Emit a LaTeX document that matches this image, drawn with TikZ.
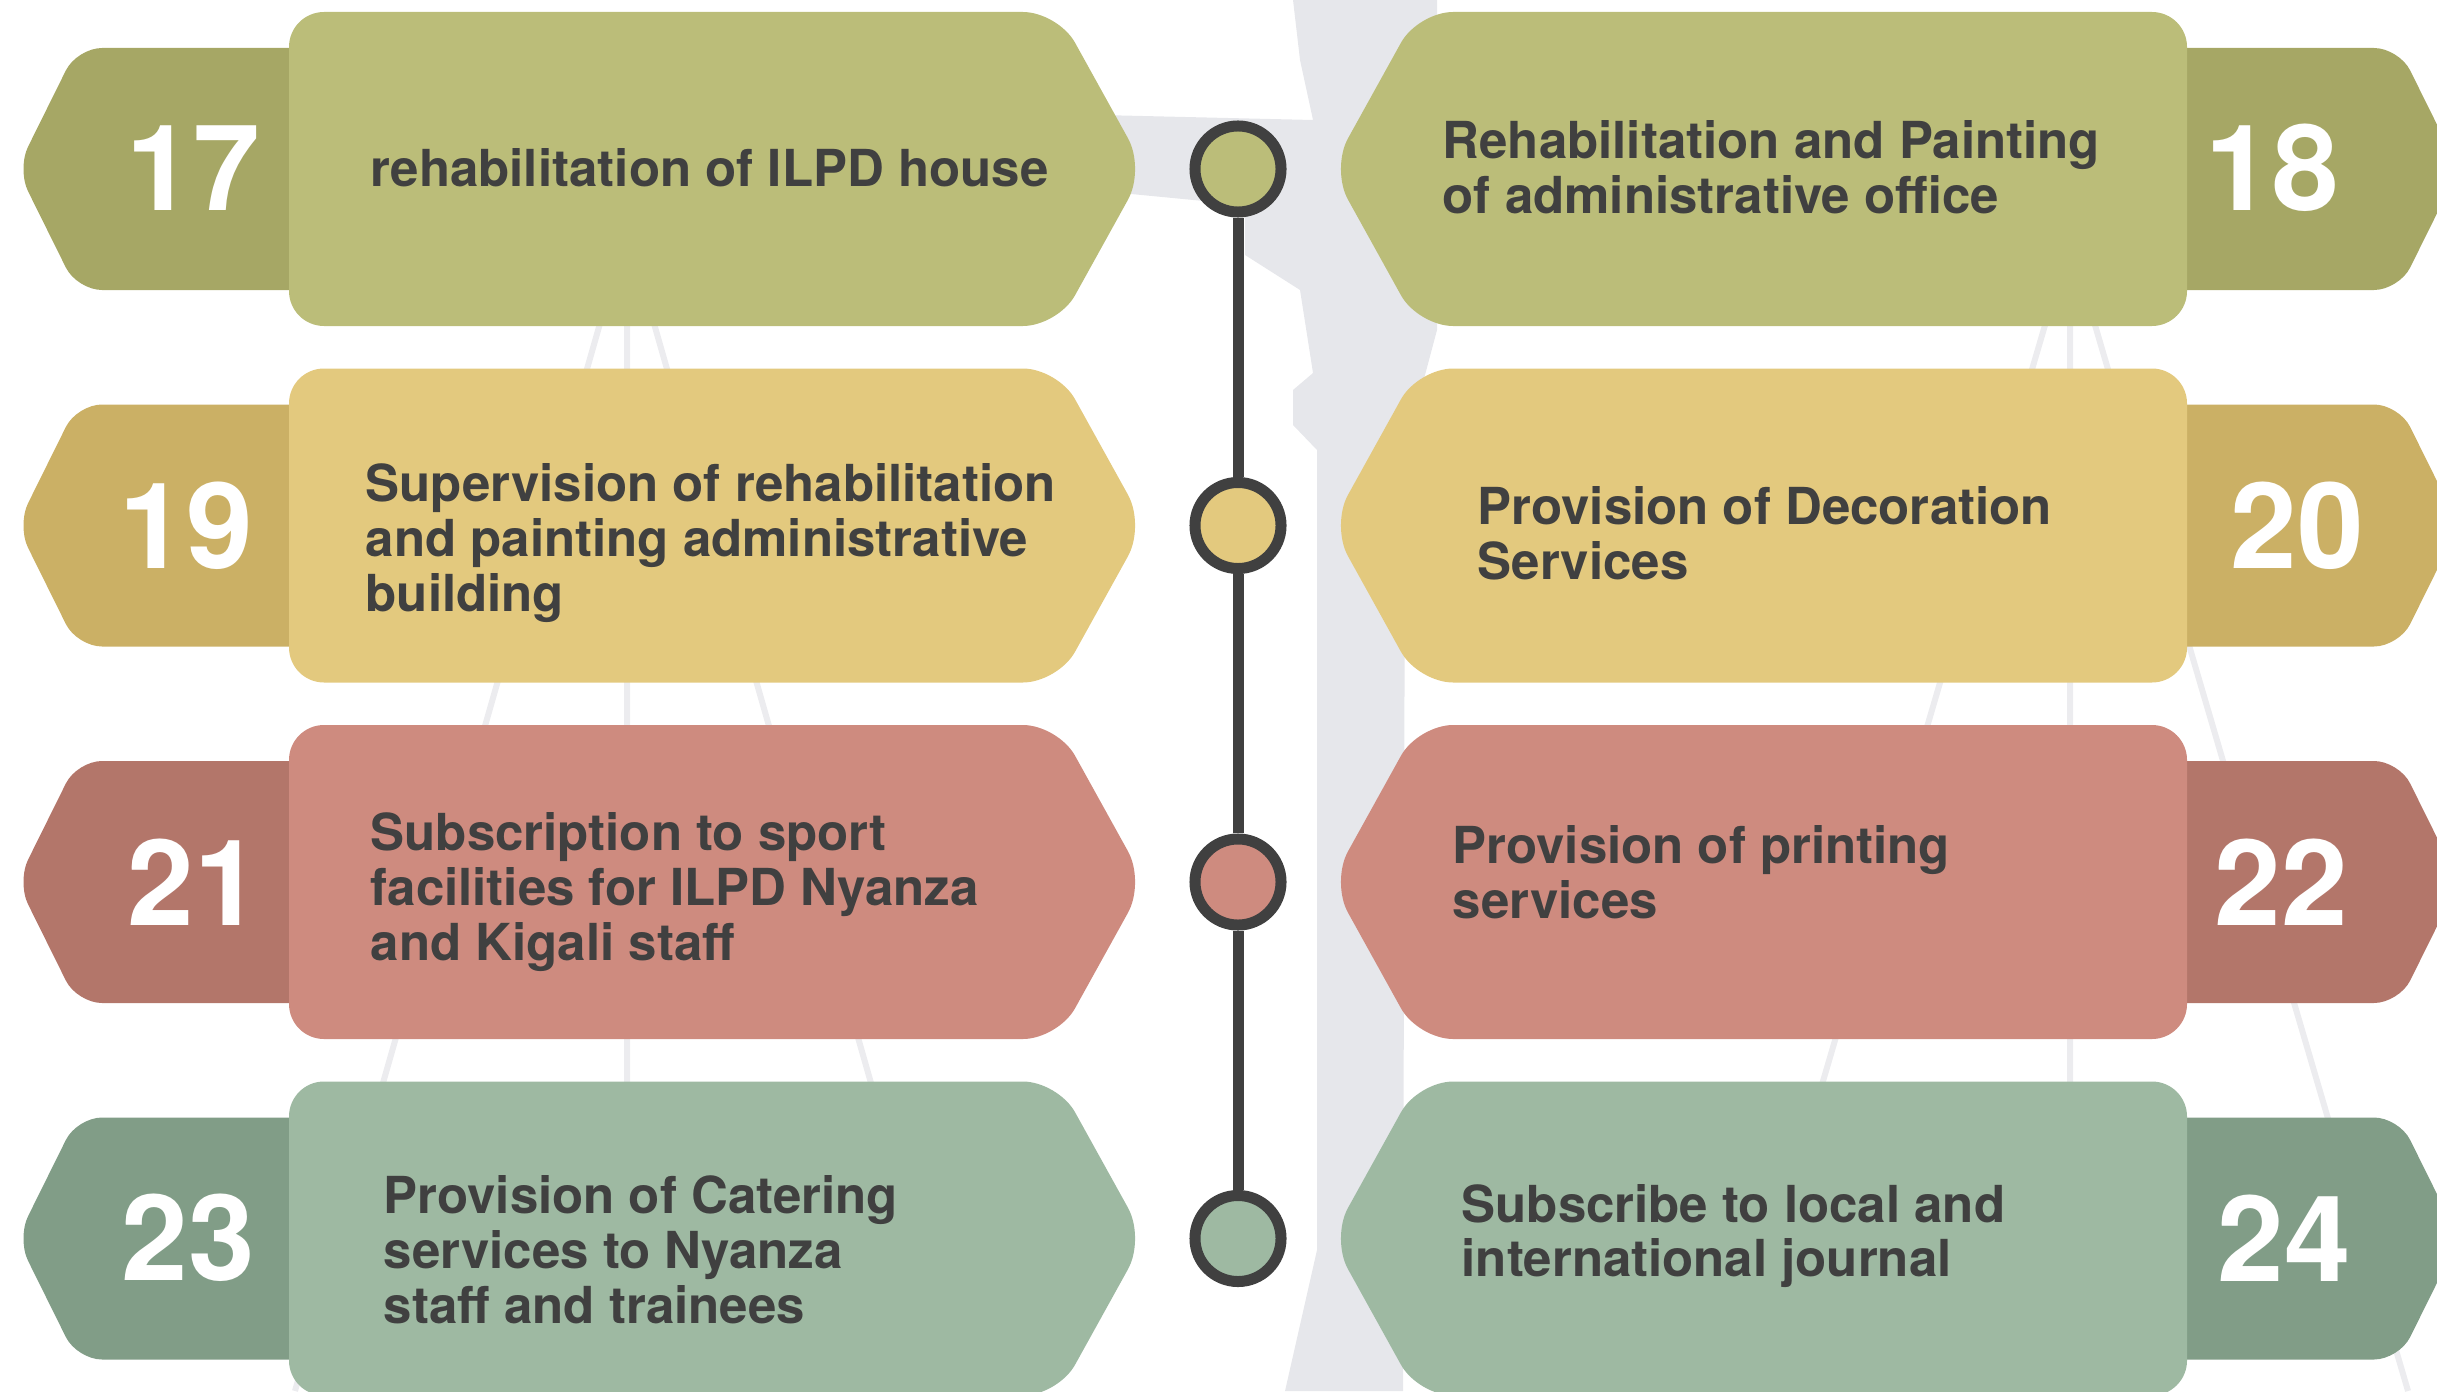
\documentclass[tikz,border=0pt]{standalone}
\usepackage{fontspec}
\setmainfont{TeX Gyre Heros}
\usepackage{xcolor}

\definecolor{oliveL}{HTML}{BBBD79}
\definecolor{oliveD}{HTML}{A6A765}
\definecolor{sandL}{HTML}{E3C97E}
\definecolor{sandD}{HTML}{CBB065}
\definecolor{roseL}{HTML}{CE8B7F}
\definecolor{roseD}{HTML}{B3766A}
\definecolor{sageL}{HTML}{9EB9A2}
\definecolor{sageD}{HTML}{819D87}
\definecolor{ink}{HTML}{404040}
\definecolor{ghost}{HTML}{E6E7EB}
\definecolor{thread}{HTML}{ECECEF}

\begin{document}
\begin{tikzpicture}[x=0.01cm,y=-0.01cm,
    task/.style={anchor=west,align=left,inner sep=0pt,text=ink,font=\bfseries\fontsize{14.5}{15.6}\selectfont},
    num/.style={text=white,inner sep=0pt,font=\bfseries\fontsize{34}{34}\selectfont},
    dot/.style={circle,draw=ink,line width=0.11cm,minimum size=0.86cm,inner sep=0pt},
    spine/.style={draw=ink,line width=0.11cm}]
  \useasboundingbox (0,0) rectangle (2437,1391);
  \clip (0,0) rectangle (2437,1391);

  % faint statue and scale threads in the back
  \fill[ghost] (1293,0) -- (1437,0) -- (1437,330) -- (1405,450) -- (1403,1391)
    -- (1285,1391) -- (1317,1250) -- (1317,450) -- (1293,425) -- (1293,390)
    -- (1313,373) -- (1300,290) -- (1245,255) -- (1245,205) -- (1100,191)
    -- (1100,115) -- (1313,120) -- (1300,60) -- cycle;
  \draw[thread,line width=0.06cm]
    (627,229) -- (295,1391) (627,229) -- (627,1391) (627,229) -- (959,1391)
    (2070,240) -- (1732,1391) (2070,240) -- (2070,1391) (2070,240) -- (2408,1391);

  \foreach \cy/\main/\dark [count=\i] in
      {169/oliveL/oliveD,525.5/sandL/sandD,882/roseL/roseD,1238.5/sageL/sageD}{
    \fill[\dark,rounded corners=0.25cm] (330,\cy-121) -- (77,\cy-121) -- (17,\cy)
      -- (77,\cy+121) -- (330,\cy+121) -- cycle;
    \fill[\main,rounded corners=0.35cm] (600,\cy-157) -- (289,\cy-157) -- (289,\cy+157)
      -- (1058,\cy+157) -- (1145,\cy) -- (1058,\cy-157) -- cycle;
    \begin{scope}[shift={(2476,0)},xscale=-1]
      \fill[\dark,rounded corners=0.25cm] (330,\cy-121) -- (77,\cy-121) -- (17,\cy)
        -- (77,\cy+121) -- (330,\cy+121) -- cycle;
      \fill[\main,rounded corners=0.35cm] (600,\cy-157) -- (289,\cy-157) -- (289,\cy+157)
        -- (1058,\cy+157) -- (1145,\cy) -- (1058,\cy-157) -- cycle;
    \end{scope}
    \node[dot,fill=\main] (c\i) at (1238,\cy) {};
  }
  \draw[spine] (c1) -- (c2) (c2) -- (c3) (c3) -- (c4);

  \node[num] (n17) at (193,168) {17};
  \node[num] (n19) at (186,526) {19};
  \node[num] (n21) at (194,882) {21};
  \node[num] (n23) at (188,1238) {23};
  \node[num] (n18) at (2272,168) {18};
  \node[num] (n20) at (2297,526) {20};
  \node[num] (n22) at (2281,882) {22};
  \node[num] (n24) at (2284,1238) {24};

  \node[task] (t17) at (370,168) {rehabilitation of ILPD house};
  \node[task] (t19) at (365,543) {Supervision of rehabilitation\\and painting administrative\\building};
  \node[task] (t21) at (370,892) {Subscription to sport\\facilities for ILPD Nyanza\\and Kigali staff};
  \node[task] (t23) at (383,1250) {Provision of Catering\\services to Nyanza\\staff and trainees};
  \node[task] (t18) at (1442,167) {Rehabilitation and Painting\\of administrative office};
  \node[task] (t20) at (1477,533) {Provision of Decoration\\Services};
  \node[task] (t22) at (1452,872) {Provision of printing\\services};
  \node[task] (t24) at (1461,1236) {Subscribe to local and\\international journal};
\end{tikzpicture}
\end{document}
